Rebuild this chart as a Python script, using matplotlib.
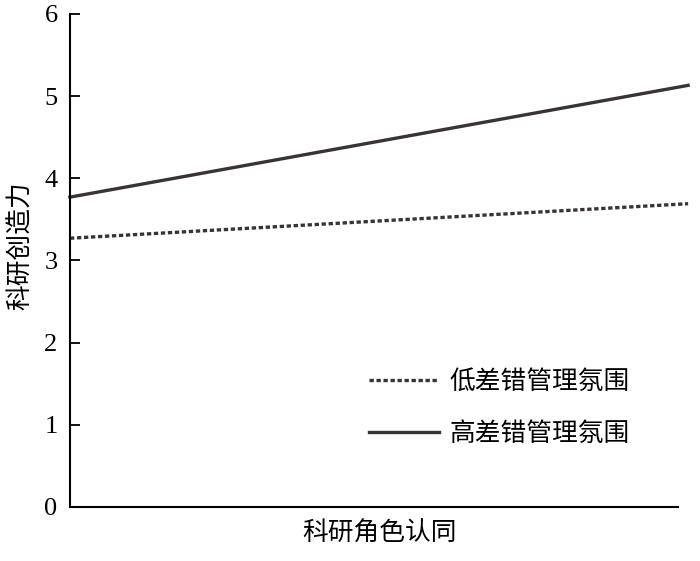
import matplotlib.pyplot as plt

plt.rcParams['font.family'] = ['Noto Sans CJK SC', 'DejaVu Sans']

# two levels of the x variable (low / high role identity)
x_levels = [0, 1]
low_climate = [3.27, 3.69]
high_climate = [3.77, 5.13]
labels = ['低差错管理氛围', '高差错管理氛围']
y_ticks = [0, 1, 2, 3, 4, 5, 6]

fig = plt.figure(figsize=(7.0, 5.61), dpi=100)
ax = fig.add_axes([0.1, 0.0963, 0.883, 0.879])

ink = '#3a3333'
ax.plot(x_levels, low_climate, color=ink, lw=2.4, linestyle=(0, (1.3, 0.8)),
        label=labels[0], clip_on=False)
ax.plot(x_levels, high_climate, color=ink, lw=2.4, label=labels[1], clip_on=False)

ax.set_xlim(0, 1)
ax.set_ylim(0, 6)
ax.set_yticks(y_ticks)
ax.set_xticks([])
ax.tick_params(axis='y', direction='in', length=7, width=1.3, labelsize=19, pad=9)
for t in ax.get_yticklabels():
    t.set_fontfamily('Liberation Serif')

ax.spines['top'].set_visible(False)
ax.spines['right'].set_visible(False)
ax.spines['left'].set_linewidth(1.5)
ax.spines['bottom'].set_linewidth(1.5)
ax.spines['bottom'].set_bounds(0, 0.984)

ax.set_xlabel('科研角色认同', fontsize=18.5, labelpad=10)
ax.set_ylabel('科研创造力', fontsize=18.5)
ax.yaxis.set_label_coords(-0.058, 0.53)

ax.legend(frameon=False, fontsize=18.5, handlelength=2.7, handletextpad=0.4,
          labelspacing=1.0, loc='upper left', bbox_to_anchor=(0.447, 0.327))

fig.savefig('out.png', dpi=100)
